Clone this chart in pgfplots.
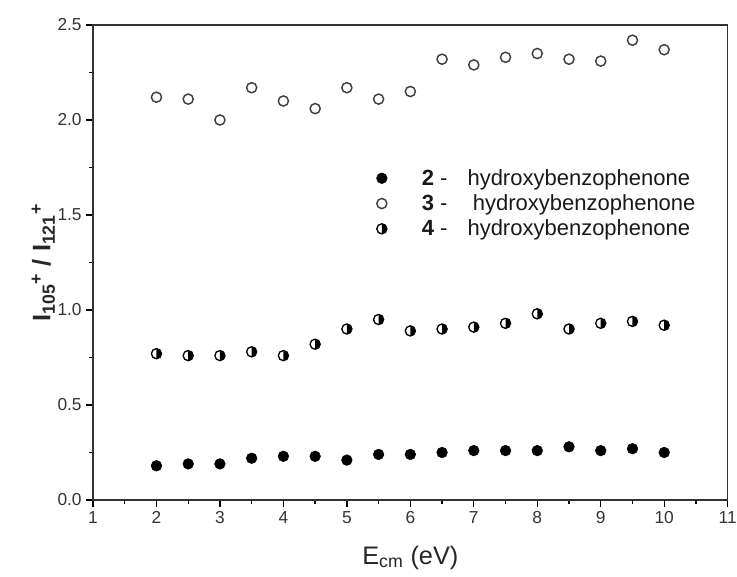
\documentclass[border=0pt]{standalone}
\usepackage{fontspec}
\setmainfont{Liberation Sans}
\usepackage{pgfplots}
\pgfplotsset{compat=1.18}
\pgfdeclareplotmark{halfcirc}{%
  \pgfpathcircle{\pgfpointorigin}{\pgfplotmarksize}%
  \pgfusepathqstroke
  \pgfpathmoveto{\pgfqpoint{0pt}{\pgfplotmarksize}}%
  \pgfpatharc{90}{-90}{\pgfplotmarksize}%
  \pgfpathclose
  \pgfusepathqfill
}
\begin{document}
\begin{tikzpicture}[x=1pt,y=1pt]
\begin{axis}[
  scale only axis, width=476pt, height=356.25pt,
  xmin=1, xmax=11, ymin=0, ymax=2.5,
  xtick={1,...,11}, ytick={0,0.5,1,1.5,2,2.5},
  minor x tick num=1, minor y tick num=1,
  tick align=outside, tick pos=left,
  major tick length=5pt, minor tick length=3pt,
  every tick/.style={black, line width=1pt},
  axis line style={line width=1.1pt, black!80},
  /pgf/number format/assume math mode=true,
  yticklabel style={/pgf/number format/fixed, /pgf/number format/fixed zerofill, /pgf/number format/precision=1, font=\fontsize{13}{14}\selectfont, text=black!80},
  xticklabel style={font=\fontsize{13}{14}\selectfont, text=black!80},
  xlabel={E\textsubscript{cm} (eV)},
  ylabel={\bfseries I\textsubscript{105}\textsuperscript{+} / I\textsubscript{121}\textsuperscript{+}},
  xlabel style={font=\fontsize{19}{21}\selectfont, text=black!85},
  ylabel style={font=\fontsize{19}{21}\selectfont, text=black!85},
  ylabel shift=-5pt,
  xlabel shift=10pt,
  legend cell align=left,
  legend style={at={(0.44,0.708)}, anchor=north west, draw=none, fill=none,
    font=\fontsize{16.5}{17}\selectfont, row sep=1.5pt, text=black!90},
  legend image code/.code={\draw[mark repeat=2,mark phase=2] plot coordinates {(0pt,0pt) (8pt,0pt) (16pt,0pt)};},
]
\addplot[only marks, mark=*, mark size=4pt, black, mark options={fill=black}] coordinates {
(2,0.18) (2.5,0.19) (3,0.19) (3.5,0.22) (4,0.23) (4.5,0.23) (5,0.21) (5.5,0.24) (6,0.24)
(6.5,0.25) (7,0.26) (7.5,0.26) (8,0.26) (8.5,0.28) (9,0.26) (9.5,0.27) (10,0.25)};
\addlegendentry{\hspace{24pt}\textbf{2} -\hspace{15pt}hydroxybenzophenone}
\addplot[only marks, mark=o, mark size=3.8pt, black!75, mark options={line width=1.1pt}] coordinates {
(2,2.12) (2.5,2.11) (3,2.00) (3.5,2.17) (4,2.10) (4.5,2.06) (5,2.17) (5.5,2.11) (6,2.15)
(6.5,2.32) (7,2.29) (7.5,2.33) (8,2.35) (8.5,2.32) (9,2.31) (9.5,2.42) (10,2.37)};
\addlegendentry{\hspace{24pt}\textbf{3} -\hspace{19pt}hydroxybenzophenone}
\addplot[only marks, mark=halfcirc, mark size=3.8pt, black, mark options={line width=1pt}] coordinates {
(2,0.77) (2.5,0.76) (3,0.76) (3.5,0.78) (4,0.76) (4.5,0.82) (5,0.90) (5.5,0.95) (6,0.89)
(6.5,0.90) (7,0.91) (7.5,0.93) (8,0.98) (8.5,0.90) (9,0.93) (9.5,0.94) (10,0.92)};
\addlegendentry{\hspace{24pt}\textbf{4} -\hspace{15pt}hydroxybenzophenone}
\end{axis}
\pgfresetboundingbox
\path (-69.75pt,-57pt) rectangle (483pt,375pt);
\end{tikzpicture}
\end{document}
